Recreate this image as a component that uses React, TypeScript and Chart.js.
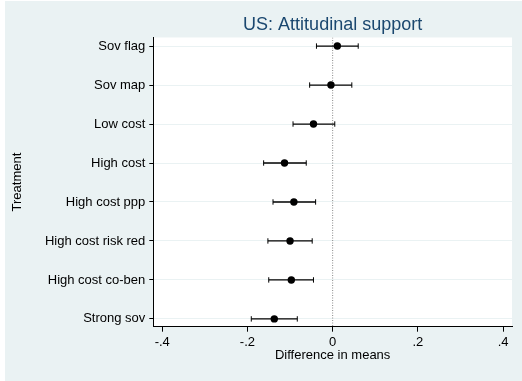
import React, { useEffect, useRef } from "react";
import { Chart, registerables } from "chart.js";

Chart.register(...registerables);

const categories = [
  "Sov flag",
  "Sov map",
  "Low cost",
  "High cost",
  "High cost ppp",
  "High cost risk red",
  "High cost co-ben",
  "Strong sov",
];
const estimates = [0.011, -0.004, -0.045, -0.113, -0.091, -0.1, -0.097, -0.137];
const lower = [-0.038, -0.054, -0.093, -0.162, -0.14, -0.152, -0.15, -0.191];
const upper = [0.06, 0.045, 0.005, -0.062, -0.04, -0.048, -0.045, -0.083];
const xTicks = [-0.4, -0.2, 0, 0.2, 0.4];

const X_MIN = -0.421;
const X_MAX = 0.421;
const Y_MIN = 0.78;
const Y_MAX = 8.2;

const BG = "#EAF2F3";
const FONT = "'Liberation Sans', Arial, sans-serif";

const bgPlugin = {
  id: "bgPlugin",
  beforeDraw(chart: any) {
    const { ctx, width, height, chartArea } = chart;
    ctx.save();
    ctx.fillStyle = "#ffffff";
    ctx.fillRect(0, 0, width, height);
    ctx.fillStyle = BG;
    ctx.fillRect(5, 1, width - 5, height - 1);
    ctx.fillStyle = "#ffffff";
    ctx.fillRect(
      chartArea.left,
      chartArea.top,
      chartArea.right - chartArea.left,
      chartArea.bottom - chartArea.top
    );
    ctx.restore();
  },
};

function fmt(v: number): string {
  if (Math.abs(v) < 1e-9) return "0";
  return v.toFixed(1).replace("0.", ".");
}

export default function App() {
  const ref = useRef<HTMLCanvasElement | null>(null);

  useEffect(() => {
    document.body.style.margin = "0";
    const canvas = ref.current;
    if (!canvas) return;

    const pointData = estimates.map((v, i) => ({ x: v, y: i + 1 }));
    const ciSets = categories.map((_, i) => ({
      data: [
        { x: lower[i], y: i + 1 },
        { x: upper[i], y: i + 1 },
      ],
      showLine: true,
      borderColor: "#000000",
      borderWidth: 1.3,
      pointStyle: "line",
      rotation: 90,
      pointRadius: 2.7,
      pointBorderWidth: 1,
      pointBorderColor: "#000000",
      backgroundColor: "#000000",
    }));

    const chart = new Chart(canvas, {
      type: "scatter",
      data: {
        datasets: [
          {
            data: pointData,
            pointRadius: 3.7,
            pointBackgroundColor: "#000000",
            pointBorderColor: "#000000",
            pointBorderWidth: 0,
          } as any,
          ...(ciSets as any[]),
          {
            data: [
              { x: 0, y: Y_MIN },
              { x: 0, y: Y_MAX },
            ],
            showLine: true,
            borderColor: "#8a8a8a",
            borderWidth: 1,
            borderDash: [1, 1.5],
            pointRadius: 0,
          } as any,
        ],
      },
      plugins: [bgPlugin],
      options: {
        animation: false,
        responsive: false,
        devicePixelRatio: 1,
        layout: { padding: { left: 5, right: 10, top: 0, bottom: 0 } },
        plugins: {
          legend: { display: false },
          tooltip: { enabled: false },
          title: {
            display: true,
            text: "US: Attitudinal support",
            fullSize: false,
            color: "#1A476F",
            font: { family: FONT, size: 18, weight: "normal" },
            padding: { top: 14.2, bottom: 1.7 },
          },
        },
        scales: {
          x: {
            type: "linear",
            min: X_MIN,
            max: X_MAX,
            afterBuildTicks(scale: any) {
              scale.ticks = xTicks.map((v) => ({ value: v }));
            },
            afterFit(scale: any) {
              scale.height = 54.3;
            },
            ticks: {
              color: "#000000",
              font: { family: FONT, size: 13 },
              padding: 3,
              maxRotation: 0,
              callback: (v: any) => fmt(Number(v)),
            },
            grid: {
              drawOnChartArea: false,
              drawTicks: true,
              tickLength: 5,
              tickColor: "#000000",
              tickWidth: 1,
            },
            border: { display: true, color: "#000000", width: 1 },
            title: {
              display: true,
              text: "Difference in means",
              color: "#000000",
              font: { family: FONT, size: 13 },
              padding: { top: 0, bottom: 17.5 },
            },
          },
          y: {
            type: "linear",
            min: Y_MIN,
            max: Y_MAX,
            reverse: true,
            afterBuildTicks(scale: any) {
              scale.ticks = categories.map((_, i) => ({ value: i + 1 }));
            },
            afterFit(scale: any) {
              scale.width = 148.3;
            },
            ticks: {
              color: "#000000",
              font: { family: FONT, size: 13 },
              padding: 4,
              callback: (v: any) => categories[Math.round(Number(v)) - 1] ?? "",
            },
            grid: {
              drawOnChartArea: true,
              color: BG,
              lineWidth: 1,
              drawTicks: true,
              tickLength: 4,
              tickColor: "#000000",
              tickWidth: 1,
            },
            border: { display: true, color: "#000000", width: 1 },
            title: {
              display: true,
              text: "Treatment",
              color: "#000000",
              font: { family: FONT, size: 13 },
              padding: { top: 5, bottom: 0 },
            },
          },
        },
      } as any,
    });

    return () => chart.destroy();
  }, []);

  return (
    <div style={{ width: 522, height: 381 }}>
      <canvas ref={ref} width={522} height={381} style={{ display: "block" }} />
    </div>
  );
}
